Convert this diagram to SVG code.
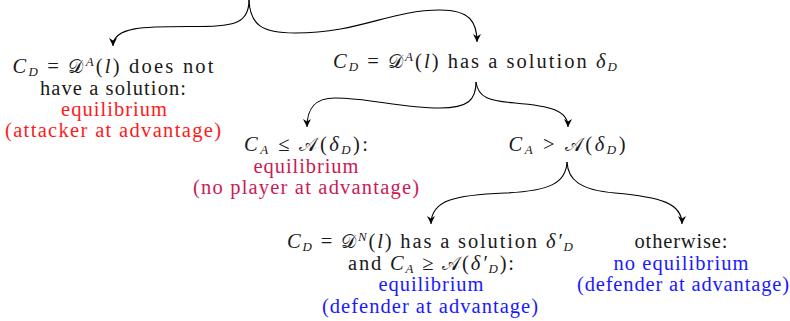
<svg xmlns="http://www.w3.org/2000/svg" width="790" height="321" viewBox="0 0 790 321">
<defs>
<style>
text{font-family:"Liberation Serif","Times New Roman",serif;font-size:20.5px;fill:#1a1a1a;text-anchor:middle}
.i{font-style:italic}
.s{font-style:italic;font-size:13px}
.cal{font-family:"DejaVu Sans","DejaVu Serif",serif;font-style:normal;font-size:19px}
.red{fill:#ff1a1a}
.pur{fill:#cc1a55}
.blu{fill:#1a1aff}
.conn path{fill:none;stroke:#000;stroke-width:1.1;marker-end:url(#arr)}
</style>
<marker id="arr" markerUnits="userSpaceOnUse" viewBox="-9 -5 10 10" markerWidth="10" markerHeight="10" refX="0" refY="0" orient="auto">
<path d="M0,0 L-8,-4 L-5.5,0 L-8,4 Z" fill="#000"/>
</marker>
</defs>
<g id="connectors" class="conn">
<path d="M249,0 C249,22 236,26.5 200,26.5 C150,26.5 113,25 113,46"/>
<path d="M249,0 C250,25 262,33 295,33 C360,33 390,10 440,10 C470,10 477,22 477,42"/>
<path d="M476,82 C476,100 468,108 440,108 C400,108 370,98 335,98 C315,98 307,108 307,127"/>
<path d="M476,82 C478,98 490,101 515,103 C550,106 568,110 568,127"/>
<path d="M567,162 C566,183 550,191 505,193 C455,195 431,200 431,224"/>
<path d="M567,162 C568,180 580,190 615,193 C660,197 682,203 682,224"/>
</g>
<g id="n1">
<text x="113" y="73" textLength="201" lengthAdjust="spacing"><tspan class="i">C</tspan><tspan class="s" dy="3">D</tspan><tspan dy="-3"> = </tspan><tspan class="cal">𝒟</tspan><tspan class="s" dy="-7">A</tspan><tspan dy="7">(</tspan><tspan class="i">l</tspan>) does not</text>
<text x="113" y="94.5" textLength="146" lengthAdjust="spacing">have a solution:</text>
<text x="114" y="116" textLength="106" lengthAdjust="spacing" class="red">equilibrium</text>
<text x="113" y="137" textLength="216" lengthAdjust="spacing" class="red">(attacker at advantage)</text>
</g>
<g id="n2">
<text x="475" y="68" textLength="284" lengthAdjust="spacing"><tspan class="i">C</tspan><tspan class="s" dy="3">D</tspan><tspan dy="-3"> = </tspan><tspan class="cal">𝒟</tspan><tspan class="s" dy="-7">A</tspan><tspan dy="7">(</tspan><tspan class="i">l</tspan>) has a solution <tspan class="i">δ</tspan><tspan class="s" dy="3">D</tspan></text>
</g>
<g id="n3">
<text x="306" y="151" textLength="124" lengthAdjust="spacing"><tspan class="i">C</tspan><tspan class="s" dy="3">A</tspan><tspan dy="-3"> ≤ </tspan><tspan class="cal">𝒜</tspan>(<tspan class="i">δ</tspan><tspan class="s" dy="3">D</tspan><tspan dy="-3">):</tspan></text>
<text x="306" y="173" textLength="105" lengthAdjust="spacing" class="pur">equilibrium</text>
<text x="306" y="194" textLength="226" lengthAdjust="spacing" class="pur">(no player at advantage)</text>
</g>
<g id="n4">
<text x="567" y="151" textLength="117" lengthAdjust="spacing"><tspan class="i">C</tspan><tspan class="s" dy="3">A</tspan><tspan dy="-3"> &gt; </tspan><tspan class="cal">𝒜</tspan>(<tspan class="i">δ</tspan><tspan class="s" dy="3">D</tspan><tspan dy="-3">)</tspan></text>
</g>
<g id="n5">
<text x="430" y="248" textLength="286" lengthAdjust="spacing"><tspan class="i">C</tspan><tspan class="s" dy="3">D</tspan><tspan dy="-3"> = </tspan><tspan class="cal">𝒟</tspan><tspan class="s" dy="-7">N</tspan><tspan dy="7">(</tspan><tspan class="i">l</tspan>) has a solution <tspan class="i">δ′</tspan><tspan class="s" dy="3">D</tspan></text>
<text x="431" y="269.5" textLength="166" lengthAdjust="spacing">and <tspan class="i">C</tspan><tspan class="s" dy="3">A</tspan><tspan dy="-3"> ≥ </tspan><tspan class="cal">𝒜</tspan>(<tspan class="i">δ′</tspan><tspan class="s" dy="3">D</tspan><tspan dy="-3">):</tspan></text>
<text x="431" y="291" textLength="105" lengthAdjust="spacing" class="blu">equilibrium</text>
<text x="430" y="312.5" textLength="216" lengthAdjust="spacing" class="blu">(defender at advantage)</text>
</g>
<g id="n6">
<text x="681" y="248" textLength="93" lengthAdjust="spacing">otherwise:</text>
<text x="681" y="269.5" textLength="135" lengthAdjust="spacing" class="blu">no equilibrium</text>
<text x="683" y="291" textLength="212" lengthAdjust="spacing" class="blu">(defender at advantage)</text>
</g>
</svg>
